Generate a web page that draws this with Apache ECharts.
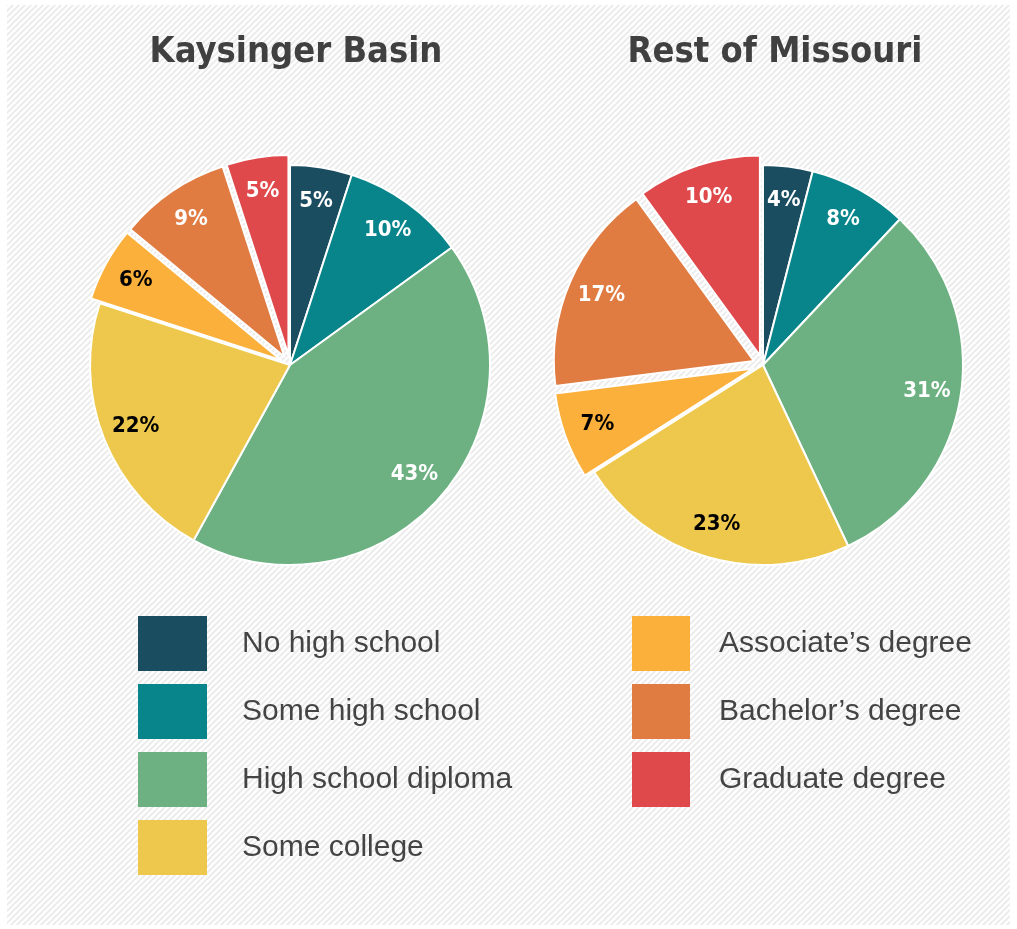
<!DOCTYPE html>
<html>
<head>
<meta charset="utf-8">
<script src="https://cdn.jsdelivr.net/npm/echarts@6/dist/echarts.min.js"></script>
<style>
  html, body { margin: 0; padding: 0; background: #fff; }
  #chart { width: 1017px; height: 929px; }
</style>
</head>
<body>
<div id="chart"></div>
<script>
// education levels, in slice order (clockwise from 12 o'clock)
const categories = ["No high school", "Some high school", "High school diploma", "Some college",
  "Associate\u2019s degree", "Bachelor\u2019s degree", "Graduate degree"];
const colors = ["#1b4d61", "#07858a", "#6db182", "#edc84c", "#fbb03b", "#e07b41", "#e0494b"];
const labelColors = ["#fff", "#fff", "#fff", "#000", "#000", "#fff", "#fff"];
const exploded = [false, false, false, false, true, true, true];
const titles = ["Kaysinger Basin", "Rest of Missouri"];
const kaysingerValues = [5, 10, 43, 22, 6, 9, 5];
const missouriValues = [4, 8, 31, 23, 7, 17, 10];

const narrowFont = "'DejaVu Sans Condensed', 'Liberation Sans Narrow', 'Roboto Condensed', 'DejaVu Sans', sans-serif";

const chart = echarts.init(document.getElementById("chart"));

// striped background
const tile = document.createElement("canvas");
tile.width = 6; tile.height = 6;
const ctx = tile.getContext("2d");
ctx.fillStyle = "#ffffff";
ctx.fillRect(0, 0, 6, 6);
ctx.strokeStyle = "#ececec";
ctx.lineWidth = 2;
ctx.beginPath();
ctx.moveTo(-3, 9); ctx.lineTo(9, -3);
ctx.moveTo(-3, 3); ctx.lineTo(3, -3);
ctx.moveTo(3, 9); ctx.lineTo(9, 3);
ctx.stroke();

function makeData(values, forLabels) {
  return values.map((v, i) => ({
    name: categories[i],
    value: v,
    selected: exploded[i],
    itemStyle: forLabels ? { color: "rgba(0,0,0,0)", borderWidth: 0 } : { color: colors[i] },
    label: { color: labelColors[i] },
  }));
}

function pieSeries(values, cx) {
  return [
    {
      type: "pie",
      center: [cx, 365],
      radius: [0, 200],
      startAngle: 90,
      selectedMode: "multiple",
      selectedOffset: 10,
      itemStyle: { borderColor: "#fff", borderWidth: 2 },
      label: { show: false },
      labelLine: { show: false },
      emphasis: { disabled: true },
      data: makeData(values, false),
    },
    {
      // transparent ring that only carries the labels further out
      type: "pie",
      center: [cx, 365],
      radius: [126, 200],
      startAngle: 90,
      selectedMode: "multiple",
      selectedOffset: 10,
      silent: true,
      label: {
        show: true,
        position: "inside",
        formatter: "{c}%",
        fontFamily: narrowFont,
        fontWeight: "bold",
        fontSize: 22,
      },
      labelLine: { show: false },
      emphasis: { disabled: true },
      data: makeData(values, true),
    },
  ];
}

const legendText = {
  fontFamily: "'Liberation Sans', sans-serif",
  fontSize: 30,
  color: "#444",
};

const titleText = { fontFamily: narrowFont, fontWeight: "bold", fontSize: 36, color: "#404040" };

chart.setOption({
  backgroundColor: "#fff",
  animation: false,
  graphic: [
    {
      type: "rect",
      z: -10,
      shape: { x: 7, y: 5, width: 1003, height: 920 },
      style: { fill: { image: tile, repeat: "repeat" } },
      silent: true,
    },
  ],
  title: [
    { text: titles[0], left: 291, top: 30, textAlign: "center", textStyle: titleText },
    { text: titles[1], left: 770, top: 30, textAlign: "center", textStyle: titleText },
  ],
  legend: [
    {
      orient: "vertical",
      left: 138, top: 616, padding: 0,
      itemWidth: 69, itemHeight: 55, itemGap: 13,
      icon: "rect",
      selectedMode: false,
      itemStyle: { borderWidth: 0 },
      textStyle: Object.assign({ padding: [6, 0, 0, 30] }, legendText),
      data: categories.slice(0, 4),
    },
    {
      orient: "vertical",
      left: 632, top: 616, padding: 0,
      itemWidth: 58, itemHeight: 55, itemGap: 13,
      icon: "rect",
      selectedMode: false,
      itemStyle: { borderWidth: 0 },
      textStyle: Object.assign({ padding: [6, 0, 0, 24] }, legendText),
      data: categories.slice(4),
    },
  ],
  series: [...pieSeries(kaysingerValues, 290), ...pieSeries(missouriValues, 763)],
});
</script>
</body>
</html>
